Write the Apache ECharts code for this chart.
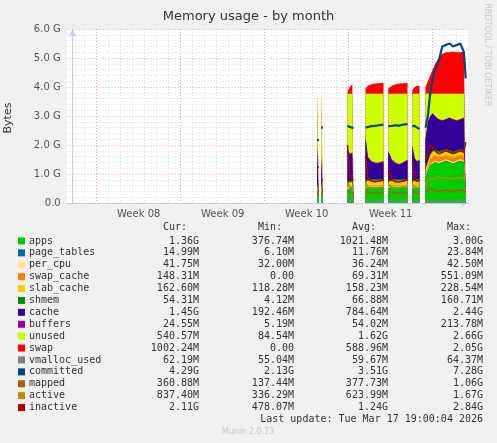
<!DOCTYPE html>
<html><head><meta charset="utf-8">
<script src="https://cdn.jsdelivr.net/npm/echarts@6/dist/echarts.min.js"></script>
<style>html,body{margin:0;padding:0;background:#f0f0f0}#c{width:497px;height:443px}</style>
</head><body><div id="c"></div>
<script>
const N = null;
// time in days (0 = first day gridline)
const days = [20.36,20.52,20.6, 20.7,20.86,20.95, 22.9,23.1,23.3,23.4,23.6, 24.4,24.6,24.9,25.2,25.5,25.9,26.1, 26.3,26.6,26.9,27.2,27.5,27.9,28.1, 28.3,28.5,28.7,28.9,29.1, 29.4,29.6,29.8,30.0,30.2,30.5,30.8,31.1,31.4,31.7,32.0,32.3,32.6,32.75];
const weekLabels = {5.5:'Week 08',12.5:'Week 09',19.5:'Week 10',26.5:'Week 11'};
// values in GiB
const apps        = [0.5,0.5,N, 0.5,0.5,N, 0.45,0.5,0.5,0.5,N, 0.5,0.55,0.55,0.55,0.55,0.55,N, 0.5,0.55,0.55,0.55,0.55,0.55,N, 0.5,0.55,0.55,0.55,N, 0.9,1.1,1.3,1.35,1.4,1.35,1.4,1.45,1.4,1.35,1.4,1.45,1.4,1.36];
const page_tables = [0.012,0.012,N, 0.012,0.012,N, 0.012,0.012,0.012,0.012,N, 0.012,0.012,0.012,0.012,0.012,0.012,N, 0.012,0.012,0.012,0.012,0.012,0.012,N, 0.012,0.012,0.012,0.012,N, 0.015,0.015,0.015,0.015,0.015,0.015,0.015,0.015,0.015,0.015,0.015,0.015,0.015,0.015];
const per_cpu     = [0.035,0.035,N, 0.035,0.035,N, 0.035,0.035,0.035,0.035,N, 0.035,0.035,0.035,0.035,0.035,0.035,N, 0.035,0.035,0.035,0.035,0.035,0.035,N, 0.035,0.035,0.035,0.035,N, 0.04,0.04,0.04,0.04,0.04,0.04,0.04,0.04,0.04,0.04,0.04,0.04,0.04,0.04];
const swap_cache  = [0,0,N, 0,0,N, 0.02,0.02,0.02,0.02,N, 0.02,0.02,0.02,0.02,0.02,0.02,N, 0.02,0.02,0.02,0.02,0.02,0.02,N, 0.02,0.02,0.02,0.02,N, 0.05,0.1,0.15,0.2,0.2,0.18,0.15,0.15,0.15,0.15,0.15,0.15,0.15,0.145];
const slab_cache  = [0.15,0.15,N, 0.15,0.15,N, 0.15,0.15,0.15,0.15,N, 0.15,0.15,0.15,0.15,0.15,0.15,N, 0.15,0.15,0.15,0.15,0.15,0.15,N, 0.15,0.15,0.15,0.15,N, 0.16,0.16,0.16,0.16,0.16,0.16,0.16,0.16,0.16,0.16,0.16,0.16,0.16,0.16];
const shmem       = [0.06,0.06,N, 0.06,0.06,N, 0.06,0.06,0.06,0.06,N, 0.06,0.06,0.06,0.06,0.06,0.06,N, 0.06,0.06,0.06,0.06,0.06,0.06,N, 0.06,0.06,0.06,0.06,N, 0.05,0.05,0.05,0.05,0.05,0.05,0.05,0.05,0.05,0.05,0.05,0.05,0.05,0.05];
const cache       = [1.2,1.2,N, 0.8,0.8,N, 1.13,0.88,0.93,0.93,N, 1.48,0.73,0.58,0.53,0.53,0.58,N, 0.98,0.63,0.53,0.48,0.53,0.63,N, 1.18,0.68,0.58,0.63,N, 0.955,1.315,1.255,1.255,1.105,1.075,1.005,1.005,1.105,1.105,1.005,1.005,1.105,1.1];
const buffers     = [0.04,0.04,N, 0.04,0.04,N, 0.04,0.04,0.04,0.04,N, 0.04,0.04,0.04,0.04,0.04,0.04,N, 0.04,0.04,0.04,0.04,0.04,0.04,N, 0.04,0.04,0.04,0.04,N, 0.03,0.03,0.03,0.03,0.03,0.03,0.03,0.03,0.03,0.03,0.03,0.03,0.03,0.03];
const unused      = [1.83,1.83,N, 2.2,2.2,N, 1.87,2.07,2.02,2.02,N, 1.47,2.17,2.32,2.37,2.37,2.32,N, 1.97,2.27,2.37,2.42,2.37,2.27,N, 1.77,2.22,2.32,2.27,N, 1.57,0.97,0.77,0.67,0.77,0.87,0.92,0.87,0.82,0.87,0.92,0.87,0.82,0.87];
const swap        = [0,0,N, 0.05,0.05,N, 0.08,0.23,0.33,0.38,N, 0.18,0.28,0.33,0.35,0.36,0.38,N, 0.18,0.28,0.33,0.35,0.36,0.37,N, 0.13,0.23,0.28,0.28,N, 0.23,0.43,0.63,0.83,1.03,1.23,1.38,1.43,1.43,1.45,1.43,1.43,1.45,1.41];
const vmalloc_used= [0.06,0.06,N, 0.06,0.06,N, 0.06,0.06,0.06,0.06,N, 0.06,0.06,0.06,0.06,0.06,0.06,N, 0.06,0.06,0.06,0.06,0.06,0.06,N, 0.06,0.06,0.06,0.06,N, 0.06,0.06,0.06,0.06,0.06,0.06,0.06,0.06,0.06,0.06,0.06,0.06,0.06,0.06];
const committed   = [2.17,2.17,N, 2.6,2.6,N, 2.66,2.62,2.6,2.6,N, 2.6,2.62,2.65,2.66,2.68,2.7,N, 2.65,2.66,2.68,2.67,2.7,2.72,N, 2.65,2.66,2.6,2.55,N, 2.6,3.0,3.8,4.3,4.6,4.9,5.4,5.45,5.5,5.4,5.45,5.5,5.2,4.3];
const mapped      = [0.35,0.35,N, 0.35,0.35,N, 0.4,0.35,0.35,0.35,N, 0.45,0.35,0.35,0.34,0.35,0.36,N, 0.4,0.35,0.34,0.35,0.35,0.36,N, 0.4,0.35,0.34,0.35,N, 0.4,0.45,0.5,0.45,0.42,0.4,0.42,0.45,0.42,0.4,0.42,0.45,0.42,0.36];
const active      = [0.5,0.5,N, 0.55,0.55,N, 0.7,0.55,0.53,0.53,N, 0.7,0.55,0.52,0.53,0.52,0.55,N, 0.65,0.55,0.52,0.53,0.55,0.55,N, 0.65,0.55,0.52,0.53,N, 0.6,0.75,0.85,0.8,0.85,0.9,0.85,0.88,0.85,0.82,0.86,0.88,0.85,0.84];
const inactive    = [1.24,1.24,N, 0.8,0.8,N, 2.0,1.0,0.8,0.78,N, 1.6,0.85,0.75,0.73,0.75,0.78,N, 1.2,0.8,0.73,0.72,0.75,0.8,N, 1.4,0.8,0.75,0.78,N, 1.4,1.8,2.0,1.9,1.8,1.7,1.75,1.8,1.75,1.7,1.75,1.8,1.75,2.1];

const names = ['apps','page_tables','per_cpu','swap_cache','slab_cache','shmem','cache','buffers','unused','swap','vmalloc_used','committed','mapped','active','inactive'];
const colors = ['#00cc00','#0066b3','#ffe680','#ff8000','#ffcc00','#008f00','#330099','#990099','#ccff00','#ff0000','#808080','#00487d','#b35a00','#b38f00','#b30000'];
const curV = ['1.36G','14.99M','41.75M','148.31M','162.60M','54.31M','1.45G','24.55M','540.57M','1002.24M','62.19M','4.29G','360.88M','837.40M','2.11G'];
const minV = ['376.74M','6.10M','32.00M','0.00','118.28M','4.12M','192.46M','5.19M','84.54M','0.00','55.04M','2.13G','137.44M','336.29M','478.07M'];
const avgV = ['1021.48M','11.76M','36.24M','69.31M','158.23M','66.88M','784.64M','54.02M','1.62G','588.96M','59.67M','3.51G','377.73M','623.99M','1.24G'];
const maxV = ['3.00G','23.84M','42.50M','551.09M','228.54M','160.71M','2.44G','213.78M','2.66G','2.05G','64.37M','7.28G','1.06G','1.67G','2.84G'];
const values = [apps,page_tables,per_cpu,swap_cache,slab_cache,shmem,cache,buffers,unused,swap,vmalloc_used,committed,mapped,active,inactive];

// cumulative stack (first 10 series are stacked areas)
const cum = [];
values.slice(0,10).forEach((arr,i)=>{
  cum.push(arr.map((v,j)=>v===null?null:(i?cum[i-1][j]:0)+v));
});

const series = names.map((n,i)=>{
  const stacked = i<10;
  const src = stacked?cum[i]:values[i];
  const data = days.map((d,j)=>[d, src[j]===null?'-':src[j]]);
  return {
    name:n, type:'line', data, showSymbol:false, connectNulls:false, animation:false,
    color: colors[i],
    lineStyle: stacked?{width:0}:{width: n==='committed'?2.2:1.5, color:colors[i]},
    areaStyle: stacked?{color:colors[i],opacity:1,origin:'start'}:undefined,
    z: stacked?(20-i):30
  };
});

const T='rgba(0,0,0,0)', G='#dcdcdc', R='#f2a0a0';
const mono = 'DejaVu Sans Mono';
const option = {
  backgroundColor:'#f0f0f0',
  animation:false,
  grid:{left:66.7,right:28.3,top:29,bottom:240,show:true,backgroundColor:'#fff',borderWidth:0},
  xAxis:{type:'value',min:-0.5,max:33,interval:0.5,
    axisLine:{show:true,lineStyle:{color:'#c8c8f0'},symbol:['none','arrow'],symbolSize:[6,8]},
    axisTick:{show:false},
    splitLine:{show:true,lineStyle:{type:[1,2],width:1,color:[T,G,T,G,T,R,T,G,T,G,T,G,T,G]}},
    axisLabel:{interval:0,color:'#555',fontSize:10,fontFamily:'DejaVu Sans',margin:6,
      formatter:v=>{for(const k in weekLabels){if(Math.abs(v-k)<1e-6)return weekLabels[k];}return '';}}},
  yAxis:{type:'value',min:0,max:6,interval:0.2,
    axisLine:{show:true,lineStyle:{color:'#c8c8f0'},symbol:['none','arrow'],symbolSize:[6,8]},
    axisTick:{show:false},
    splitLine:{show:true,lineStyle:{type:[1,2],width:1,color:[R,G,G,G,G]}},
    axisLabel:{color:'#555',fontSize:10,fontFamily:'DejaVu Sans',margin:6,
      formatter:v=>{const r=Math.round(v*5);if(r%5)return '';return v===0?'0.0':v.toFixed(1)+' G';}}},
  legend:{orient:'vertical',left:13,top:230,itemWidth:7,itemHeight:7,itemGap:0,icon:'rect',
    selectedMode:false,
    data:names.map(n=>({name:n,icon:'rect'})),
    textStyle:{fontFamily:mono,fontSize:10,color:'#333',lineHeight:11.9,padding:[0,0,0,-1],
      rich:{n:{width:97,fontFamily:mono,fontSize:10,color:'#333'},
            c:{width:73,align:'right',fontFamily:mono,fontSize:10,color:'#333'},
            m:{width:95,align:'right',fontFamily:mono,fontSize:10,color:'#333'},
            a:{width:94,align:'right',fontFamily:mono,fontSize:10,color:'#333'},
            x:{width:95,align:'right',fontFamily:mono,fontSize:10,color:'#333'}}},
    formatter:n=>{const i=names.indexOf(n);return `{n|${n}}{c|${curV[i]}}{m|${minV[i]}}{a|${avgV[i]}}{x|${maxV[i]}}`;}},
  graphic:[
    {type:'text',left:'center',top:10,style:{text:'Memory usage - by month',font:'13px "DejaVu Sans"',fill:'#333'}},
    {type:'text',x:8,y:118,rotation:Math.PI/2,style:{text:'Bytes',font:'11px "DejaVu Sans"',fill:'#333',align:'center',verticalAlign:'middle'}},
    {type:'text',x:487,y:55,rotation:-Math.PI/2,style:{text:'RRDTOOL / TOBI OETIKER',font:'8px "DejaVu Sans"',fill:'#c8c8c8',align:'center',verticalAlign:'middle'}},
    {type:'text',x:187,y:222,style:{text:'Cur:',font:'10px "DejaVu Sans Mono"',fill:'#333',align:'right'}},
    {type:'text',x:282,y:222,style:{text:'Min:',font:'10px "DejaVu Sans Mono"',fill:'#333',align:'right'}},
    {type:'text',x:376,y:222,style:{text:'Avg:',font:'10px "DejaVu Sans Mono"',fill:'#333',align:'right'}},
    {type:'text',x:471,y:222,style:{text:'Max:',font:'10px "DejaVu Sans Mono"',fill:'#333',align:'right'}},
    {type:'text',x:483,y:414,style:{text:'Last update: Tue Mar 17 19:00:04 2026',font:'10px "DejaVu Sans Mono"',fill:'#333',align:'right'}},
    {type:'text',x:248,y:428,style:{text:'Munin 2.0.73',font:'8px "DejaVu Sans"',fill:'#c8c8c8',align:'center'}}
  ],
  series
};
const chart = echarts.init(document.getElementById('c'));
chart.setOption(option);
</script></body></html>
